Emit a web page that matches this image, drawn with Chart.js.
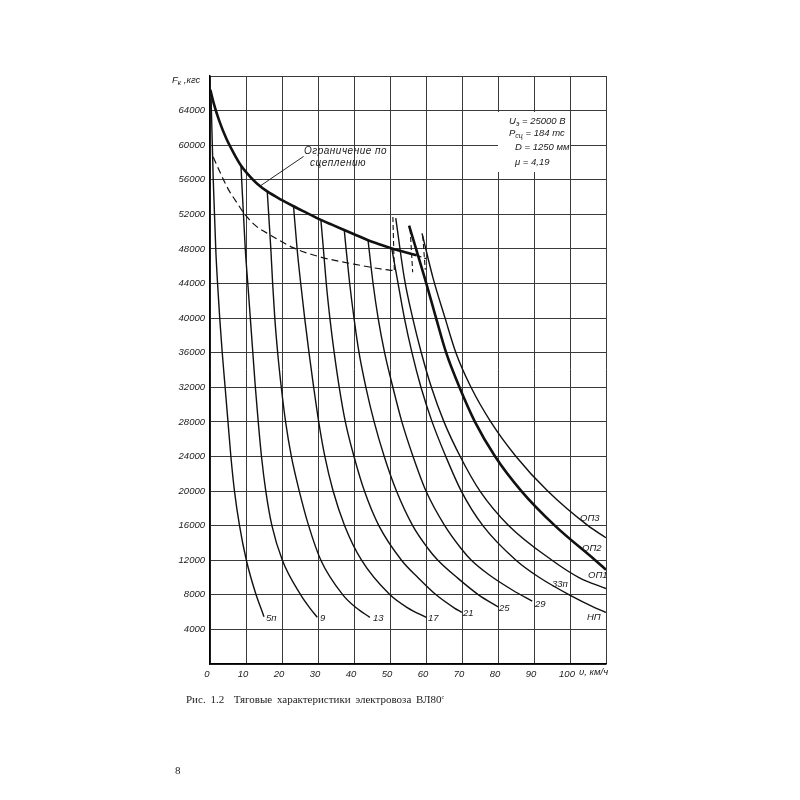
<!DOCTYPE html>
<html><head><meta charset="utf-8">
<script src="https://cdn.jsdelivr.net/npm/chart.js@4.4.1/dist/chart.umd.min.js"></script>
<style>
html,body{margin:0;padding:0;background:#fff;}
#wrap{position:relative;width:800px;height:800px;overflow:hidden;background:#fff;}
#c{position:absolute;left:0;top:0;}
.t{position:absolute;font-family:"Liberation Sans",Arial,sans-serif;font-style:italic;font-size:9.5px;color:#1a1a1a;line-height:1;white-space:nowrap;}
.t sub{font-size:7px;vertical-align:-2px;line-height:0;}
#box{position:absolute;left:498px;top:112px;width:72px;height:60px;background:#fff;}
#cap{position:absolute;left:186px;top:693px;font-family:"Liberation Serif","Times New Roman",serif;font-size:11px;color:#222;white-space:nowrap;word-spacing:2px;}
#cap sup{font-size:6px;vertical-align:4px;line-height:0;}
#pg{position:absolute;left:175px;top:764px;font-family:"Liberation Serif","Times New Roman",serif;font-size:11px;color:#222;}
</style></head>
<body><div id="wrap">
<canvas id="c" width="800" height="800"></canvas>
<div id="box"></div>
<div class="t" style="left:509px;top:116px">U<sub>э</sub> = 25000 В</div>
<div class="t" style="left:509px;top:128px">P<sub>сц</sub> = 184 тс</div>
<div class="t" style="left:515px;top:142px">D = 1250 мм</div>
<div class="t" style="left:515px;top:157px">μ = 4,19</div>
<div class="t" style="left:304px;top:146px;font-size:10px;letter-spacing:0.5px">Ограничение по</div>
<div class="t" style="left:310px;top:158px;font-size:10px;letter-spacing:0.5px">сцеплению</div>
<div class="t" style="left:172px;top:75px">F<sub>к</sub> ,кгс</div>
<div class="t" style="left:579px;top:667px">υ, км/ч</div>
<div class="t" style="left:266px;top:613px">5п</div>
<div class="t" style="left:320px;top:613px">9</div>
<div class="t" style="left:373px;top:613px">13</div>
<div class="t" style="left:428px;top:613px">17</div>
<div class="t" style="left:463px;top:608px">21</div>
<div class="t" style="left:499px;top:603px">25</div>
<div class="t" style="left:535px;top:599px">29</div>
<div class="t" style="left:552px;top:579px">33п</div>
<div class="t" style="left:587px;top:612px">НП</div>
<div class="t" style="left:588px;top:570px">ОП1</div>
<div class="t" style="left:582px;top:543px">ОП2</div>
<div class="t" style="left:580px;top:513px">ОП3</div>
<div id="cap">Рис. 1.2&nbsp; Тяговые характеристики электровоза ВЛ80<sup>с</sup></div>
<div id="pg">8</div>
</div>
<script>
// Tick settings
const speedTicks = [0,10,20,30,40,50,60,70,80,90,100,110];
const forceTicks = [4000,8000,12000,16000,20000,24000,28000,32000,36000,40000,44000,48000,52000,56000,60000,64000];

// Adhesion limit (thick) and its dashed continuation
const adhesionV = [0.1,1,2.5,4.5,6.5,8.6,11,13.1,15.9,20,23.2,27,30.8,34,37.3,40.5,43.9,47,50.5,54,57.4];
const adhesionF = [66400,64900,62900,60800,59150,57650,56420,55540,54650,53650,52940,52150,51360,50780,50190,49620,49010,48550,48040,47640,47260];
const adhesionExtV = [57.4,60.0];
const adhesionExtF = [47260,46880];

// Dashed limit curve
const limitV = [0.9,2.8,5.1,7.5,9.4,12.5,16.8,23.2,30.6,41.7,50.1,51.2];
const limitF = [58620,56860,54890,53330,52150,50750,49600,48120,47080,46110,45530,45500];

// Dashed transition lines
const trans1V = [50.8,51.2]; const trans1F = [51700,45530];
const trans2V = [55.6,56.3]; const trans2F = [50300,45300];
const trans3V = [59.1,59.8]; const trans3F = [49500,45600];

// Running positions: speed (km/h) and tractive force (kgf)
const p5V  = [0.3,0.9,1.6,2.1,2.7,3.4,4.2,5.0,5.8,6.8,8.2,10.1,12.8,14.1,15.0];
const p5F  = [65500,56000,48000,44000,40000,36000,32000,28000,24000,20000,16000,12000,8000,6500,5470];
const p9V  = [8.6,9.8,10.5,11.2,11.9,12.6,13.4,14.3,15.5,17.2,20.1,25.2,27.7,29.8];
const p9F  = [57650,48000,44000,40000,36000,32000,28000,24000,20000,16000,12000,8000,6500,5400];
const p13V = [15.9,16.9,17.4,18.0,18.8,19.8,21.0,22.6,24.8,27.4,30.8,36.9,40.6,44.4];
const p13F = [54650,48000,44000,40000,36000,32000,28000,24000,20000,16000,12000,8000,6500,5400];
const p17V = [23.2,24.2,25.2,26.3,27.5,28.8,30.2,31.9,34.2,37.4,42.1,50.0,54.9,60.1];
const p17F = [52940,48000,44000,40000,36000,32000,28000,24000,20000,16000,12000,8000,6500,5390];
const p21V = [30.8,31.5,32.3,33.3,34.5,35.9,37.6,40.0,42.9,46.9,53.2,58.0,62.8,67.8,70.0];
const p21F = [51360,48000,44000,40000,36000,32000,28000,24000,20000,16000,12000,9900,8000,6500,5960];
const p25V = [37.3,37.8,38.8,40.0,41.4,43.3,45.6,48.4,51.8,56.3,60.6,63.3,68.9,74.6,80.1];
const p25F = [50190,48000,44000,40000,36000,32000,28000,24000,20000,16000,13330,12000,9900,8000,6590];
const p29V = [43.9,45.3,46.7,48.5,50.8,53.3,56.4,60.0,65.2,69.8,72.6,77.6,84.2,89.5];
const p29F = [49010,44000,40000,36000,32000,28000,24000,20000,16000,13330,12000,10290,8500,7260];
const p33V = [50.5,52.0,54.0,56.1,58.6,61.7,65.5,69.8,75.8,85.0,91.5,99.8,107.0,110];
const p33F = [48040,44570,40000,36000,32000,28000,24000,20000,16000,12000,10000,8000,6500,5960];
const op1V = [51.6,54.0,56.3,58.7,61.5,65.0,69.5,75.0,83.0,95.0,102.5,110];
const op1F = [51560,44570,40000,36000,32000,28000,24000,20000,16000,12000,10000,8730];
const op2V = [55.3,59.7,62.8,65.6,69.3,73.6,79.2,86.5,95.8,107.0,110];
const op2F = [50700,44570,40000,36000,32000,28000,24000,20000,16000,12000,10900];
const op3V = [58.9,62.0,65.3,68.3,72.5,78.0,85.0,93.8,105.0,110];
const op3F = [49800,44570,40000,36000,32000,28000,24000,20000,16000,14600];

// Leader line for the adhesion label
const leaderV = [14,26];
const leaderF = [55300,58700];

const ink = '#111';
function pts(v,f){return v.map((x,i)=>({x:x,y:f[i]}));}
function ds(v,f,w,dash,smooth){
  return {data:pts(v,f),showLine:true,borderColor:ink,borderWidth:w,borderDash:dash||[],
    pointRadius:0,fill:false,cubicInterpolationMode:smooth===false?'default':'monotone',tension:0};
}
const datasets = [
  ds(adhesionV,adhesionF,2.6),
  ds(adhesionExtV,adhesionExtF,1.3,[5,3],false),
  ds(limitV,limitF,1.2,[7,4]),
  ds(trans1V,trans1F,1.1,[5,3],false),
  ds(trans2V,trans2F,1.1,[5,3],false),
  ds(trans3V,trans3F,1.1,[5,3],false),
  ds(p5V,p5F,1.4), ds(p9V,p9F,1.4), ds(p13V,p13F,1.4), ds(p17V,p17F,1.4),
  ds(p21V,p21F,1.4), ds(p25V,p25F,1.4), ds(p29V,p29F,1.4), ds(p33V,p33F,1.4),
  ds(op1V,op1F,1.4), ds(op2V,op2F,2.6), ds(op3V,op3F,1.4),
  ds(leaderV,leaderF,0.9,[],false)
];

const tickFont = {family:'"Liberation Sans", Arial, sans-serif', size:9.5, style:'italic'};
new Chart(document.getElementById('c'), {
  type:'scatter',
  data:{datasets:datasets},
  options:{
    responsive:false, animation:false, events:[],
    layout:{padding:{left:170,top:76,right:194,bottom:106}},
    plugins:{legend:{display:false},tooltip:{enabled:false}},
    scales:{
      x:{type:'linear',min:0,max:110,
        afterBuildTicks:(s)=>{s.ticks=speedTicks.map(v=>({value:v}));},
        ticks:{autoSkip:false,maxRotation:0,padding:5,labelOffset:-3,color:'#1a1a1a',font:tickFont,
          callback:(v)=> v===110 ? '' : String(v)},
        grid:{color:'#3a3a3a',lineWidth:1,drawTicks:false},
        border:{color:'#000',width:1.5},
        afterFit:(s)=>{s.height=30;}},
      y:{type:'linear',min:0,max:68000,
        afterBuildTicks:(s)=>{s.ticks=[0].concat(forceTicks,[68000]).map(v=>({value:v}));},
        ticks:{autoSkip:false,padding:5,color:'#1a1a1a',font:tickFont,
          callback:(v)=> forceTicks.includes(v) ? String(v) : ''},
        grid:{color:'#3a3a3a',lineWidth:1,drawTicks:false},
        border:{color:'#000',width:1.5},
        afterFit:(s)=>{s.width=40;}}
    }
  }
});
</script>
</body></html>
